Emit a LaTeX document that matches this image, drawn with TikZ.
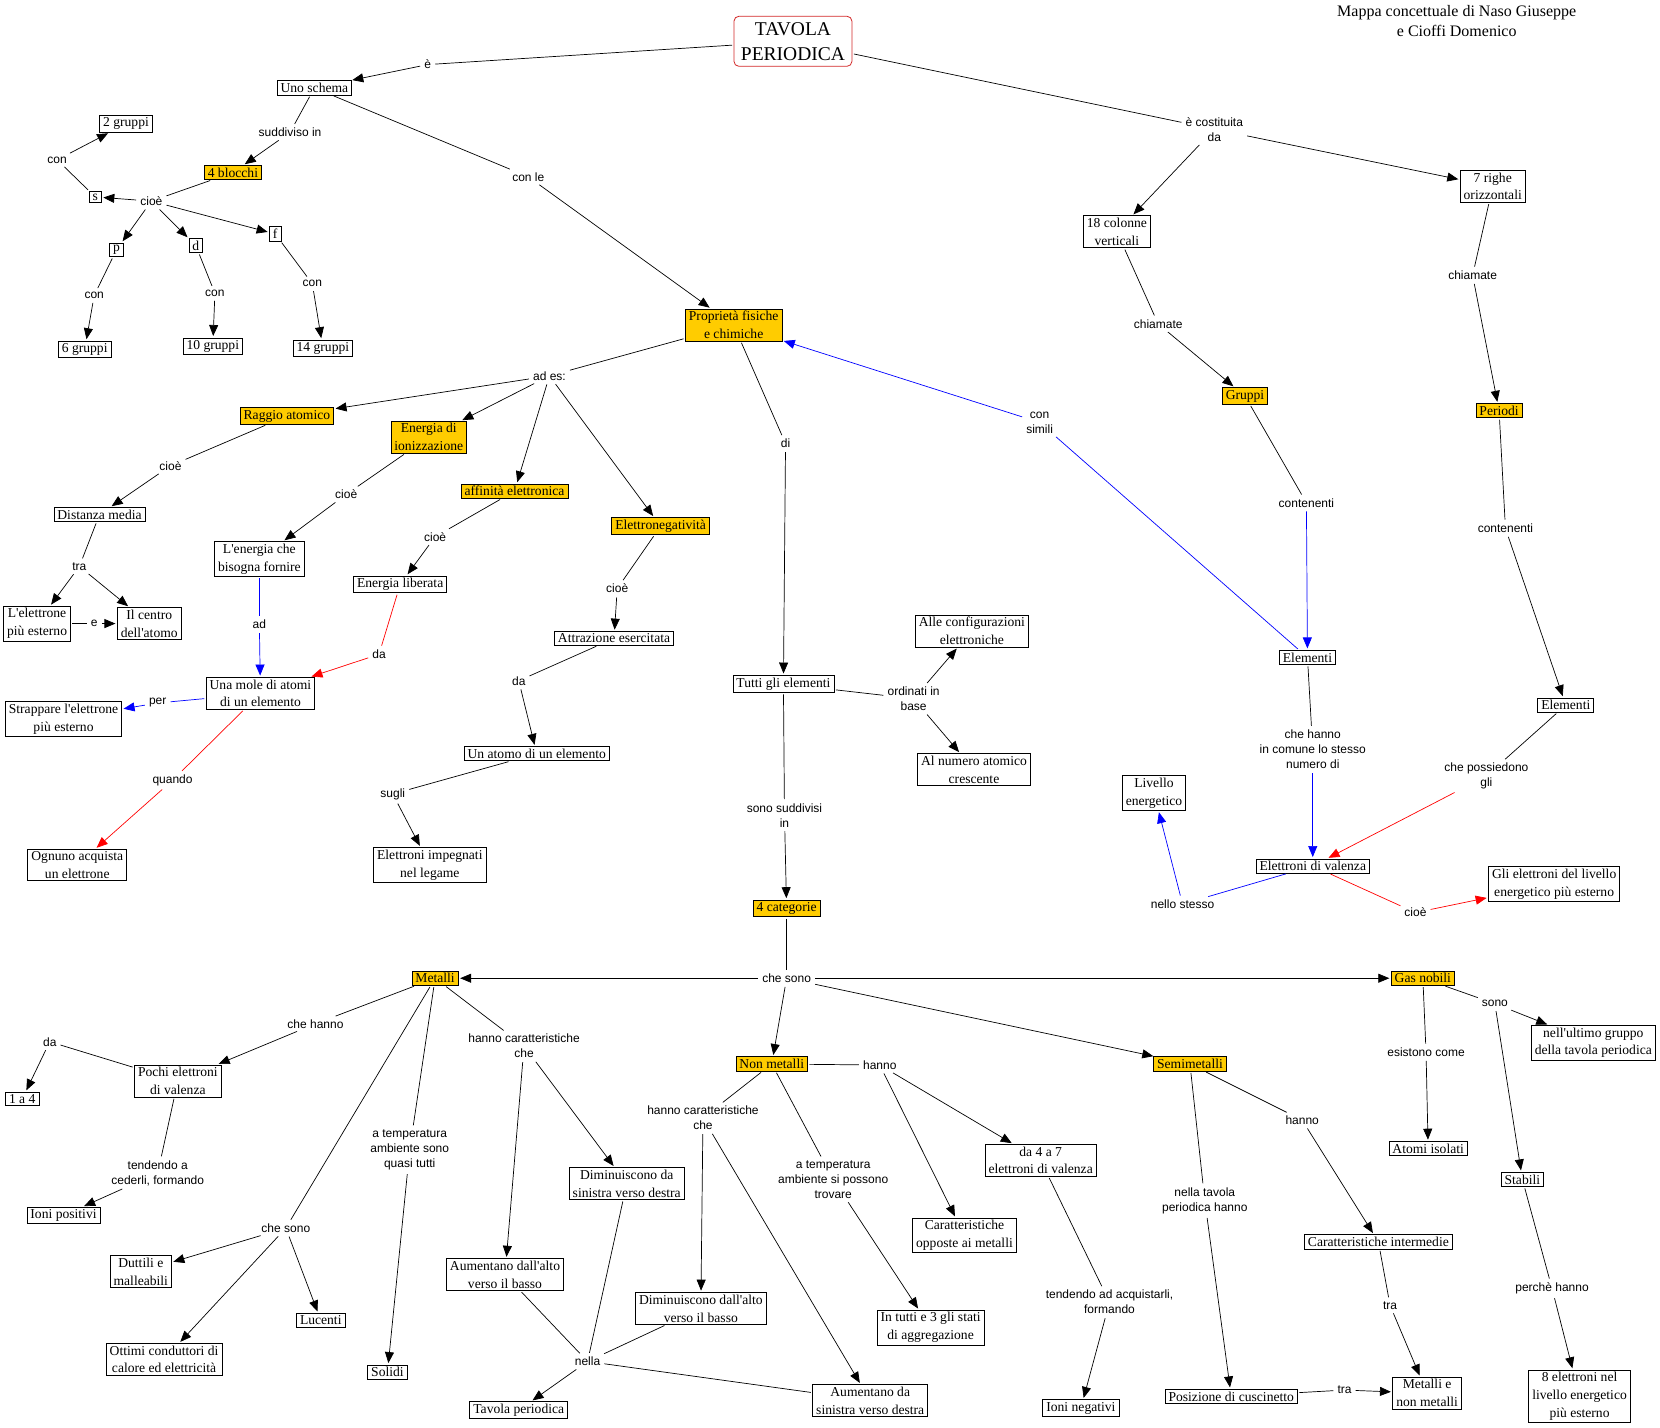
\documentclass[tikz,border=0pt]{standalone}
\usepackage{fontspec}
\setmainfont{Liberation Serif}[Ligatures=TeXOff]
\setsansfont{Liberation Sans}[Ligatures=TeXOff]
\usetikzlibrary{arrows.meta}
\definecolor{gold}{RGB}{255,204,0}
\definecolor{cmapred}{RGB}{210,40,40}

\begin{document}
\begin{tikzpicture}[x=1.0587pt,y=-1.0587pt,
    concept/.style={draw,line width=0.8pt,inner xsep=3.5pt,inner ysep=2.3pt,align=center,font=\fontsize{13.6}{17.8}\selectfont},
    keyconcept/.style={concept,fill=gold},
    linkword/.style={inner sep=2.5pt,align=center,font=\sffamily\fontsize{12}{15}\selectfont},
    conn/.style={line width=0.7pt,shorten <=1.5pt,shorten >=1.5pt},
    arr/.style={conn,-{Triangle[length=11pt,width=9pt]}}]
    \useasboundingbox (0,0) rectangle (1568,1348);
    % root and authors
    \node[concept,draw=cmapred,rounded corners=5pt,inner xsep=7pt,inner ysep=6pt,font=\fontsize{19.5}{25}\selectfont] (tavola) at (749,39) {TAVOLA\\PERIODICA};
    \node[align=center,font=\fontsize{16}{20}\selectfont] (autori) at (1376,20) {Mappa concettuale di Naso Giuseppe\\e Cioffi Domenico};
    % schema and blocks
    \node[concept] (unoSchema) at (297,83) {Uno schema};
    \node[concept] (gruppi2) at (119,117) {2 gruppi};
    \node[keyconcept] (blocchi) at (220,163) {4 blocchi};
    \node[concept] (s) at (90,186) {s};
    \node[concept] (p) at (110,236) {p};
    \node[concept] (d) at (185,232) {d};
    \node[concept] (f) at (260,221) {f};
    \node[concept] (gruppi6) at (80,330) {6 gruppi};
    \node[concept] (gruppi10) at (201,327) {10 gruppi};
    \node[concept] (gruppi14) at (305,329) {14 gruppi};
    \node[linkword] (lE) at (404,61) {è};
    \node[linkword] (lSuddiviso) at (274,125) {suddiviso in};
    \node[linkword] (lConLe) at (499,167) {con le};
    \node[linkword] (lConS) at (54,151) {con};
    \node[linkword] (lCioeBlocchi) at (143,190) {cioè};
    \node[linkword] (lConP) at (89,279) {con};
    \node[linkword] (lConD) at (203,277) {con};
    \node[linkword] (lConF) at (295,268) {con};
    \draw[conn] (tavola) -- (lE);
    \draw[arr] (lE) -- (unoSchema);
    \draw[conn] (unoSchema) -- (lSuddiviso);
    \draw[arr] (lSuddiviso) -- (blocchi);
    \draw[conn] (unoSchema) -- (lConLe);
    \draw[conn] (blocchi) -- (lCioeBlocchi);
    \foreach \t in {s,p,d,f}{\draw[arr] (lCioeBlocchi) -- (\t);}
    \draw[conn] (s) -- (lConS);
    \draw[arr] (lConS) -- (gruppi2);
    \foreach \a/\l/\b in {p/lConP/gruppi6,d/lConD/gruppi10,f/lConF/gruppi14}{
        \draw[conn] (\a) -- (\l);
        \draw[arr] (\l) -- (\b);
    }
    % properties
    \node[keyconcept] (proprieta) at (693,307) {Proprietà fisiche\\e chimiche};
    \draw[arr] (lConLe) -- (proprieta);
    \node[keyconcept] (raggio) at (271,393) {Raggio atomico};
    \node[keyconcept] (energiaIon) at (405,413) {Energia di\\ionizzazione};
    \node[keyconcept] (affinita) at (486,464) {affinità elettronica};
    \node[keyconcept] (elettroneg) at (624,497) {Elettronegatività};
    \node[concept] (distanza) at (94,486) {Distanza media};
    \node[concept] (elettroneEst) at (35,589) {L'elettrone\\più esterno};
    \node[concept] (centro) at (141,589) {Il centro\\dell'atomo};
    \node[concept] (energiaFornire) at (245,528) {L'energia che\\bisogna fornire};
    \node[concept] (energiaLib) at (378,552) {Energia liberata};
    \node[concept] (attrazione) at (580,603) {Attrazione esercitata};
    \node[concept] (mole) at (246,655) {Una mole di atomi\\di un elemento};
    \node[concept] (strappare) at (60,679) {Strappare l'elettrone\\più esterno};
    \node[concept] (ognuno) at (73,817) {Ognuno acquista\\un elettrone};
    \node[concept] (atomo) at (507,712) {Un atomo di un elemento};
    \node[concept] (impegnati) at (406,817) {Elettroni impegnati\\nel legame};
    \node[linkword] (lAdEs) at (519,355) {ad es:};
    \node[linkword] (lCioeRaggio) at (161,440) {cioè};
    \node[linkword] (lCioeIon) at (327,467) {cioè};
    \node[linkword] (lCioeAff) at (411,507) {cioè};
    \node[linkword] (lCioeNeg) at (583,556) {cioè};
    \node[linkword] (lTra) at (75,535) {tra};
    \node[linkword] (lE2) at (89,589) {e};
    \node[linkword] (lAd) at (245,590) {ad};
    \node[linkword] (lDaLib) at (358,618) {da};
    \node[linkword] (lDaAttr) at (490,643) {da};
    \node[linkword] (lPer) at (149,664) {per};
    \node[linkword] (lQuando) at (163,737) {quando};
    \node[linkword] (lSugli) at (371,750) {sugli};
    \draw[conn] (proprieta) -- (lAdEs);
    \foreach \t in {raggio,energiaIon,affinita,elettroneg}{\draw[arr] (lAdEs) -- (\t);}
    \foreach \a/\l/\b in {raggio/lCioeRaggio/distanza,energiaIon/lCioeIon/energiaFornire,affinita/lCioeAff/energiaLib,elettroneg/lCioeNeg/attrazione,attrazione/lDaAttr/atomo,atomo/lSugli/impegnati}{
        \draw[conn] (\a) -- (\l);
        \draw[arr] (\l) -- (\b);
    }
    \draw[conn] (distanza) -- (lTra);
    \draw[arr] (lTra) -- (elettroneEst);
    \draw[arr] (lTra) -- (centro);
    \draw[conn] (elettroneEst) -- (lE2);
    \draw[arr] (lE2) -- (centro);
    \draw[conn,blue] (energiaFornire) -- (lAd);
    \draw[arr,blue] (lAd) -- (mole);
    \draw[conn,red] (energiaLib) -- (lDaLib);
    \draw[arr,red] (lDaLib) -- (mole);
    \draw[conn,blue] (mole) -- (lPer);
    \draw[arr,blue] (lPer) -- (strappare);
    \draw[conn,red] (mole) -- (lQuando);
    \draw[arr,red] (lQuando) -- (ognuno);
    % elements
    \node[concept] (tutti) at (740,646) {Tutti gli elementi};
    \node[concept] (configurazioni) at (918,596) {Alle configurazioni\\elettroniche};
    \node[concept] (numeroAt) at (920,727) {Al numero atomico\\crescente};
    \node[linkword] (lDi) at (742,419) {di};
    \node[linkword] (lOrdinati) at (863,660) {ordinati in\\base};
    \node[linkword] (lSonoSudd) at (741,770) {sono suddivisi\\in};
    \draw[conn] (proprieta) -- (lDi);
    \draw[arr] (lDi) -- (tutti);
    \draw[conn] (tutti) -- (lOrdinati);
    \draw[arr] (lOrdinati) -- (configurazioni);
    \draw[arr] (lOrdinati) -- (numeroAt);
    \draw[conn] (tutti) -- (lSonoSudd);
    % columns and rows
    \node[concept] (colonne) at (1055,219) {18 colonne\\verticali};
    \node[concept] (righe) at (1410,176) {7 righe\\orizzontali};
    \node[keyconcept] (gruppi) at (1176,374) {Gruppi};
    \node[keyconcept] (periodi) at (1416,388) {Periodi};
    \node[concept] (elementiG) at (1235,621) {Elementi};
    \node[concept] (elementiP) at (1479,666) {Elementi};
    \node[concept] (livello) at (1090,749) {Livello\\energetico};
    \node[concept] (valenza) at (1240,818) {Elettroni di valenza};
    \node[concept] (gliElettroni) at (1468,835) {Gli elettroni del livello\\energetico più esterno};
    \node[linkword] (lCostituita) at (1147,122) {è costituita\\da};
    \node[linkword] (lChiamateC) at (1094,306) {chiamate};
    \node[linkword] (lChiamateR) at (1391,260) {chiamate};
    \node[linkword] (lContenentiG) at (1234,475) {contenenti};
    \node[linkword] (lContenentiP) at (1422,499) {contenenti};
    \node[linkword] (lConSimili) at (982,399) {con\\simili};
    \node[linkword] (lCheHanno) at (1240,708) {che hanno\\in comune lo stesso\\numero di};
    \node[linkword] (lPossiedono) at (1404,733) {che possiedono\\gli};
    \node[linkword] (lNelloStesso) at (1117,854) {nello stesso};
    \node[linkword] (lCioeVal) at (1337,862) {cioè};
    \draw[conn] (tavola) -- (lCostituita);
    \draw[arr] (lCostituita) -- (colonne);
    \draw[arr] (lCostituita) -- (righe);
    \foreach \a/\l/\b in {colonne/lChiamateC/gruppi,righe/lChiamateR/periodi,periodi/lContenentiP/elementiP}{
        \draw[conn] (\a) -- (\l);
        \draw[arr] (\l) -- (\b);
    }
    \draw[conn] (gruppi) -- (lContenentiG);
    \draw[arr,blue] (lContenentiG) -- (elementiG);
    \draw[conn,blue] (elementiG) -- (lConSimili);
    \draw[arr,blue] (lConSimili) -- (proprieta);
    \draw[conn] (elementiG) -- (lCheHanno);
    \draw[arr,blue] (lCheHanno) -- (valenza);
    \draw[conn] (elementiP) -- (lPossiedono);
    \draw[arr,red] (lPossiedono) -- (valenza);
    \draw[conn,blue] (valenza) -- (lNelloStesso);
    \draw[arr,blue] (lNelloStesso) -- (livello);
    \draw[conn,red] (valenza) -- (lCioeVal);
    \draw[arr,red] (lCioeVal) -- (gliElettroni);
    % four categories
    \node[keyconcept] (categorie) at (743,858) {4 categorie};
    \draw[arr] (lSonoSudd) -- (categorie);
    \node[keyconcept] (metalli) at (411,924) {Metalli};
    \node[keyconcept] (gasNobili) at (1344,924) {Gas nobili};
    \node[keyconcept] (nonMetalli) at (729,1005) {Non metalli};
    \node[keyconcept] (semimetalli) at (1124,1005) {Semimetalli};
    \node[linkword] (lCheSono) at (743,924) {che sono};
    \draw[conn] (categorie) -- (lCheSono);
    \foreach \t in {metalli,nonMetalli,semimetalli,gasNobili}{\draw[arr] (lCheSono) -- (\t);}
    % metals
    \node[concept] (pochi) at (168,1021) {Pochi elettroni\\di valenza};
    \node[concept] (unoQuattro) at (21,1038) {1 a 4};
    \node[concept] (ioniPos) at (60,1148) {Ioni positivi};
    \node[concept] (duttili) at (133,1201) {Duttili e\\malleabili};
    \node[concept] (lucenti) at (303,1247) {Lucenti};
    \node[concept] (ottimi) at (155,1284) {Ottimi conduttori di\\calore ed elettricità};
    \node[concept] (solidi) at (366,1296) {Solidi};
    \node[concept] (diminSD) at (592,1118) {Diminuiscono da\\sinistra verso destra};
    \node[concept] (aumAB) at (477,1204) {Aumentano dall'alto\\verso il basso};
    \node[concept] (diminAB) at (662,1236) {Diminuiscono dall'alto\\verso il basso};
    \node[concept] (tavolaPer) at (490,1332) {Tavola periodica};
    \node[concept] (aumSD) at (822,1323) {Aumentano da\\sinistra verso destra};
    \node[linkword] (lCheHannoMet) at (298,967) {che hanno};
    \node[linkword] (lDaPochi) at (47,984) {da};
    \node[linkword] (lTendendoMet) at (149,1108) {tendendo a\\cederli, formando};
    \node[linkword] (lCheSonoMet) at (270,1160) {che sono};
    \node[linkword] (lTempMet) at (387,1086) {a temperatura\\ambiente sono\\quasi tutti};
    \node[linkword] (lHannoCarMet) at (495,988) {hanno caratteristiche\\che};
    \node[linkword] (lNella) at (555,1286) {nella};
    \foreach \a/\l/\b in {metalli/lCheHannoMet/pochi,pochi/lDaPochi/unoQuattro,pochi/lTendendoMet/ioniPos,metalli/lTempMet/solidi}{
        \draw[conn] (\a) -- (\l);
        \draw[arr] (\l) -- (\b);
    }
    \draw[conn] (metalli) -- (lCheSonoMet);
    \foreach \t in {duttili,ottimi,lucenti}{\draw[arr] (lCheSonoMet) -- (\t);}
    \draw[conn] (metalli) -- (lHannoCarMet);
    \draw[arr] (lHannoCarMet) -- (aumAB);
    \draw[arr] (lHannoCarMet) -- (diminSD);
    \foreach \a in {aumAB,diminSD,diminAB,aumSD}{\draw[conn] (\a) -- (lNella);}
    \draw[arr] (lNella) -- (tavolaPer);
    % non metals
    \node[concept] (opposte) at (911,1167) {Caratteristiche\\opposte ai metalli};
    \node[concept] (stati) at (879,1254) {In tutti e 3 gli stati\\di aggregazione};
    \node[concept] (daQuattro) at (983,1096) {da 4 a 7\\elettroni di valenza};
    \node[concept] (ioniNeg) at (1021,1330) {Ioni negativi};
    \node[linkword] (lHannoNM) at (831,1006) {hanno};
    \node[linkword] (lHannoCarNM) at (664,1056) {hanno caratteristiche\\che};
    \node[linkword] (lTempNM) at (787,1114) {a temperatura\\ambiente si possono\\trovare};
    \node[linkword] (lTendendoNM) at (1048,1230) {tendendo ad acquistarli,\\formando};
    \draw[conn] (nonMetalli) -- (lHannoNM);
    \draw[arr] (lHannoNM) -- (opposte);
    \draw[arr] (lHannoNM) -- (daQuattro);
    \draw[conn] (nonMetalli) -- (lHannoCarNM);
    \draw[arr] (lHannoCarNM) -- (diminAB);
    \draw[arr] (lHannoCarNM) -- (aumSD);
    \foreach \a/\l/\b in {nonMetalli/lTempNM/stati,daQuattro/lTendendoNM/ioniNeg}{
        \draw[conn] (\a) -- (\l);
        \draw[arr] (\l) -- (\b);
    }
    % semimetals and noble gases
    \node[concept] (cuscinetto) at (1163,1319) {Posizione di cuscinetto};
    \node[concept] (intermedie) at (1302,1173) {Caratteristiche intermedie};
    \node[concept] (metNonMet) at (1348,1316) {Metalli e\\non metalli};
    \node[concept] (atomiIsolati) at (1349,1085) {Atomi isolati};
    \node[concept] (ultimoGruppo) at (1505,985) {nell'ultimo gruppo\\della tavola periodica};
    \node[concept] (stabili) at (1438,1114) {Stabili};
    \node[concept] (otto) at (1492,1319) {8 elettroni nel\\livello energetico\\più esterno};
    \node[linkword] (lNellaTavola) at (1138,1134) {nella tavola\\periodica hanno};
    \node[linkword] (lHannoSemi) at (1230,1058) {hanno};
    \node[linkword] (lTraSemi) at (1313,1233) {tra};
    \node[linkword] (lTraCusc) at (1270,1313) {tra};
    \node[linkword] (lEsistono) at (1347,994) {esistono come};
    \node[linkword] (lSono) at (1412,948) {sono};
    \node[linkword] (lPerche) at (1466,1217) {perchè hanno};
    \foreach \a/\l/\b in {semimetalli/lNellaTavola/cuscinetto,semimetalli/lHannoSemi/intermedie,intermedie/lTraSemi/metNonMet,cuscinetto/lTraCusc/metNonMet,gasNobili/lEsistono/atomiIsolati,stabili/lPerche/otto}{
        \draw[conn] (\a) -- (\l);
        \draw[arr] (\l) -- (\b);
    }
    \draw[conn] (gasNobili) -- (lSono);
    \draw[arr] (lSono) -- (ultimoGruppo);
    \draw[arr] (lSono) -- (stabili);
\end{tikzpicture}
\end{document}
